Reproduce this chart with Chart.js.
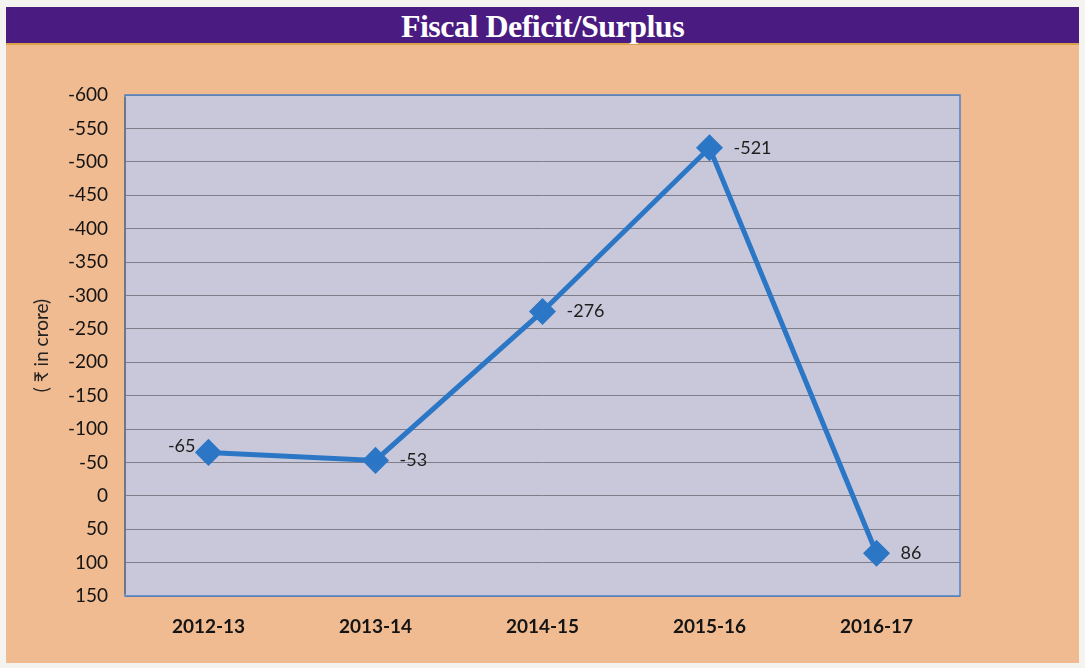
<!DOCTYPE html>
<html>
<head>
<meta charset="utf-8">
<title>Fiscal Deficit/Surplus</title>
<script src="https://cdn.jsdelivr.net/npm/chart.js"></script>
<style>
  body { margin: 0; background: #f5f3ef; width: 1085px; height: 668px; overflow: hidden; }
  #panel { position: absolute; left: 6px; top: 7px; width: 1073px; height: 656px; background: #f0bb91; }
  #banner {
    position: absolute; left: 0; top: 0; width: 100%; height: 36px;
    background: #4a1b80; border-bottom: 2px solid #d9a24a;
    color: #fff; font: bold 32px "Liberation Serif", serif;
    letter-spacing: -0.5px;
    text-align: center; line-height: 38px;
  }
  #wrap { position: absolute; left: 0; top: 0; width: 1085px; height: 668px; }
</style>
</head>
<body>
<div id="panel"><div id="banner">Fiscal Deficit/Surplus</div></div>
<div id="wrap"><canvas id="fiscalChart" width="1085" height="668"></canvas></div>
<script>
const years = ["2012-13", "2013-14", "2014-15", "2015-16", "2016-17"];
const balance = [-65, -53, -276, -521, 86];
const yMin = -600;
const yMax = 150;
const yStep = 50;

// first label sits left of its marker, the rest to the right
const labelSide = ["left", "right", "right", "right", "right"];

const plotFrame = {
    id: "plotFrame",
    beforeDraw(chart) {
        const a = chart.chartArea;
        const ctx = chart.ctx;
        ctx.save();
        ctx.fillStyle = "#c8c8da";
        ctx.fillRect(a.left, a.top, a.right - a.left, a.bottom - a.top);
        ctx.restore();
    },
    beforeDatasetsDraw(chart) {
        const a = chart.chartArea;
        const ctx = chart.ctx;
        ctx.save();
        ctx.lineWidth = 1.5;
        ctx.strokeStyle = "#4f83c4";
        ctx.strokeRect(a.left, a.top, a.right - a.left, a.bottom - a.top);
        ctx.strokeStyle = "#6e6e78";
        ctx.beginPath();
        ctx.moveTo(a.left, a.top + 2);
        ctx.lineTo(a.left, a.bottom - 2);
        ctx.stroke();
        ctx.restore();
    }
};

const valueLabels = {
    id: "valueLabels",
    afterDatasetsDraw(chart) {
        const ctx = chart.ctx;
        const meta = chart.getDatasetMeta(0);
        ctx.save();
        ctx.font = "18px Lato, sans-serif";
        ctx.fillStyle = "#1e1e1e";
        ctx.textBaseline = "middle";
        meta.data.forEach((pt, i) => {
            const v = chart.data.datasets[0].data[i];
            if (labelSide[i] === "left") {
                ctx.textAlign = "right";
                ctx.fillText(String(v), pt.x - 13, pt.y - 6);
            } else {
                ctx.textAlign = "left";
                ctx.fillText(String(v), pt.x + 24, pt.y);
            }
        });
        ctx.restore();
    }
};

new Chart(document.getElementById("fiscalChart"), {
    type: "line",
    data: {
        labels: years,
        datasets: [{
            data: balance,
            borderColor: "#2c76c6",
            backgroundColor: "#2c76c6",
            borderWidth: 5,
            tension: 0,
            pointStyle: "rectRot",
            pointRadius: 10,
            pointHoverRadius: 10,
            pointBackgroundColor: "#2c76c6",
            pointBorderColor: "#2c76c6"
        }]
    },
    options: {
        responsive: false,
        animation: false,
        layout: { padding: { top: 95, right: 125, left: 0, bottom: 0 } },
        plugins: {
            legend: { display: false },
            tooltip: { enabled: false }
        },
        scales: {
            x: {
                offset: true,
                grid: { display: false, drawTicks: false },
                border: { display: false },
                ticks: {
                    padding: 19,
                    color: "#141414",
                    font: { family: "Lato", size: 19, weight: "bold" }
                },
                afterFit(scale) { scale.height = 72; }
            },
            y: {
                reverse: true,
                min: yMin,
                max: yMax,
                grid: { color: "#7e7e8a", lineWidth: 1, drawTicks: false },
                border: { display: false },
                ticks: {
                    stepSize: yStep,
                    padding: 17,
                    color: "#141414",
                    font: { family: "Lato", size: 19 }
                },
                title: {
                    display: true,
                    text: "( ₹ in crore)",
                    color: "#222",
                    padding: { top: 30, bottom: 0 },
                    font: { family: "Lato", size: 19 }
                },
                afterFit(scale) { scale.width = 125; }
            }
        }
    },
    plugins: [plotFrame, valueLabels]
});
</script>
</body>
</html>
